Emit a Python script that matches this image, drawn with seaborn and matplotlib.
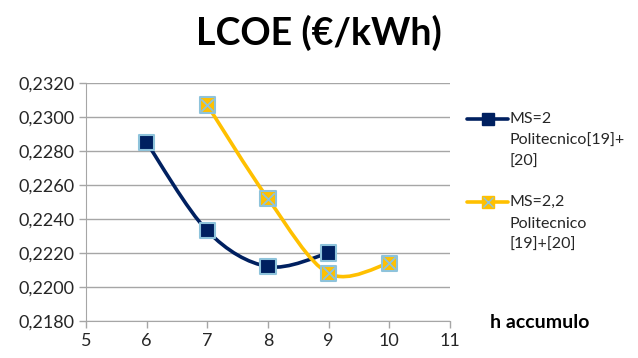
import matplotlib.pyplot as plt
import seaborn as sns
import pandas as pd
from matplotlib.path import Path
from matplotlib.patches import PathPatch
from matplotlib.lines import Line2D

# Dati LCOE
ore_ms2 = [6, 7, 8, 9]
lcoe_ms2 = [0.2285, 0.2233, 0.2212, 0.2220]
ore_ms22 = [7, 8, 9, 10]
lcoe_ms22 = [0.2307, 0.2252, 0.2208, 0.2214]
serie = ["MS=2\nPolitecnico[19]+\n[20]", "MS=2,2\nPolitecnico\n[19]+[20]"]
colori = ["#002060", "#FFC000"]
bordo = "#8EC3DB"

df = pd.concat([
    pd.DataFrame({"h": ore_ms2, "lcoe": lcoe_ms2, "serie": serie[0]}),
    pd.DataFrame({"h": ore_ms22, "lcoe": lcoe_ms22, "serie": serie[1]}),
])

sns.set_style("white")
plt.rcParams['font.family'] = ['Lato', 'DejaVu Sans']

W, H = 638, 358
fig = plt.figure(figsize=(W / 100, H / 100), dpi=100)
ax = fig.add_axes([0.1348, 0.1034, 0.5705, 0.6648])


def curva_smooth(xs, ys):
    # curva "smussata" stile Excel (bezier tipo Catmull-Rom)
    pts = list(zip(xs, ys))
    verts = [pts[0]]
    codes = [Path.MOVETO]
    n = len(pts)
    for i in range(n - 1):
        p0 = pts[i - 1] if i > 0 else pts[i]
        p1 = pts[i]
        p2 = pts[i + 1]
        p3 = pts[i + 2] if i + 2 < n else pts[i + 1]
        c1 = (p1[0] + (p2[0] - p0[0]) / 6, p1[1] + (p2[1] - p0[1]) / 6)
        c2 = (p2[0] - (p3[0] - p1[0]) / 6, p2[1] - (p3[1] - p1[1]) / 6)
        verts += [c1, c2, p2]
        codes += [Path.CURVE4] * 3
    return Path(verts, codes)


for (xs, ys), col in zip([(ore_ms2, lcoe_ms2), (ore_ms22, lcoe_ms22)], colori):
    ax.add_patch(PathPatch(curva_smooth(xs, ys), facecolor="none",
                           edgecolor=col, lw=2.6, zorder=3))

sns.scatterplot(data=df, x="h", y="lcoe", hue="serie", palette=colori,
                marker="s", s=120, edgecolor=bordo, linewidth=1.5,
                legend=False, ax=ax, zorder=4)
ax.scatter(ore_ms22, lcoe_ms22, marker="x", s=80, color=bordo,
           linewidths=1.3, zorder=5)

ax.set_xlim(5, 11)
ax.set_ylim(0.2180, 0.2320)
ax.set_xticks(range(5, 12))
yt = [0.2180 + 0.002 * i for i in range(8)]
ax.set_yticks(yt)
ax.set_yticklabels([f"{v:.4f}".replace(".", ",") for v in yt])
ax.tick_params(axis="both", labelsize=13, colors="#a6a6a6", length=5,
               width=1, direction="out", left=True, bottom=True)
for lab in ax.get_xticklabels() + ax.get_yticklabels():
    lab.set_color("#262626")
ax.yaxis.grid(True, color="#a6a6a6", lw=1)
ax.xaxis.grid(False)
for s in ["top", "right"]:
    ax.spines[s].set_visible(False)
for s in ["left", "bottom"]:
    ax.spines[s].set_color("#a6a6a6")
ax.set_xlabel("")
ax.set_ylabel("")

fig.text(0.5, 1 - 33 / H, "LCOE (€/kWh)", ha="center", va="center",
         fontsize=27, fontweight="bold", color="black")
fig.text(540 / W, 1 - 322 / H, "h accumulo", ha="center", va="center",
         fontsize=14, fontweight="bold", color="black")

# legenda disegnata a mano (simbolo sulla prima riga del testo)
for etichetta, col, y0, xmark in zip(serie, colori, [119, 202], [False, True]):
    yf = 1 - y0 / H
    fig.add_artist(Line2D([467 / W, 508 / W], [yf, yf], color=col, lw=2.6,
                          transform=fig.transFigure))
    fig.add_artist(Line2D([488 / W], [yf], marker="s", markersize=9,
                          markerfacecolor=col, markeredgecolor=col,
                          transform=fig.transFigure))
    if xmark:
        fig.add_artist(Line2D([488 / W], [yf], marker="x", markersize=7,
                              color=bordo, markeredgewidth=1,
                              transform=fig.transFigure))
    for k, riga in enumerate(etichetta.split("\n")):
        fig.text(510 / W, 1 - (y0 + 21.5 * k) / H, riga, ha="left",
                 va="center", fontsize=11.5, color="#262626")

fig.savefig("out.png", dpi=100)
